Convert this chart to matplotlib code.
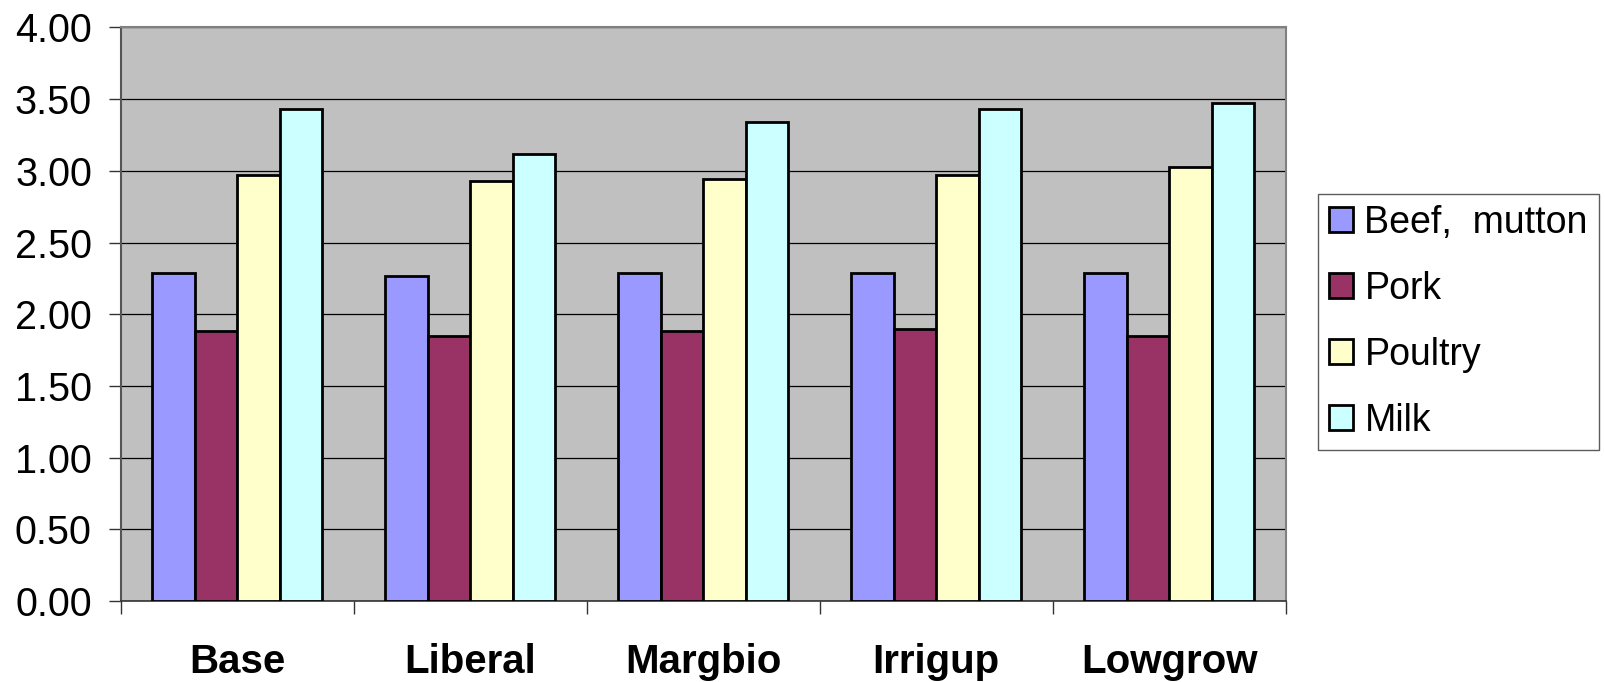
import numpy as np
import matplotlib
matplotlib.use('Agg')
import matplotlib.pyplot as plt
from matplotlib.ticker import FixedLocator, FormatStrFormatter

plt.rcParams['font.family'] = ['Liberation Sans', 'DejaVu Sans']

scenarios = ['Base', 'Liberal', 'Margbio', 'Irrigup', 'Lowgrow']
products = ['Beef,  mutton', 'Pork', 'Poultry', 'Milk']
beef = [2.29, 2.27, 2.29, 2.29, 2.29]
pork = [1.88, 1.85, 1.88, 1.90, 1.85]
poultry = [2.97, 2.93, 2.945, 2.97, 3.03]
milk = [3.43, 3.12, 3.34, 3.43, 3.47]
colours = ['#9999FF', '#993366', '#FFFFCC', '#CCFFFF']

fig = plt.figure(figsize=(16.05, 6.82), dpi=100)
ax = fig.add_axes([0.0754, 0.1188, 0.7256, 0.8409])
ax.set_facecolor('#C0C0C0')

x = np.arange(len(scenarios))
w = 0.1825
for i, (vals, name, c) in enumerate(zip([beef, pork, poultry, milk], products, colours)):
    ax.bar(x + (i - 1.5) * w, vals, width=w, color=c, edgecolor='black',
           linewidth=2.0, label=name, zorder=3)

ax.set_xlim(-0.5, len(scenarios) - 0.5)
ax.set_ylim(0, 4)
ax.set_yticks(np.arange(0, 4.01, 0.5))
ax.yaxis.set_major_formatter(FormatStrFormatter('%.2f'))
ax.yaxis.grid(True, color='black', linewidth=0.9, zorder=1)
ax.set_axisbelow(True)

# category names sit between the boundary ticks
ax.set_xticks(x)
ax.set_xticklabels(scenarios, fontsize=29, fontweight='bold')
ax.xaxis.set_minor_locator(FixedLocator(np.arange(-0.5, len(scenarios), 1.0)))
ax.tick_params(axis='x', which='major', length=0, pad=30)
ax.tick_params(axis='x', which='minor', length=9, width=1, color='#333333')
ax.tick_params(axis='y', length=9, width=1, color='#333333', pad=12, labelsize=28.5)

for side in ['top', 'right']:
    ax.spines[side].set_color('#808080')
    ax.spines[side].set_linewidth(1.5)
ax.spines['left'].set_color('#555555')
ax.spines['left'].set_linewidth(1.5)
ax.spines['bottom'].set_color('#333333')
ax.spines['bottom'].set_linewidth(1.2)

leg = fig.legend(loc='center left', bbox_to_anchor=(1318 / 1605, 0.528),
                 fontsize=27, frameon=True, fancybox=False, edgecolor='#333333',
                 handlelength=0.64, handleheight=0.64, handletextpad=0.3,
                 labelspacing=0.8, borderpad=0.3, borderaxespad=0)
leg.get_frame().set_linewidth(1.0)
for h in leg.legend_handles:
    h.set_linewidth(2.0)

fig.savefig('out.png', dpi=100)
